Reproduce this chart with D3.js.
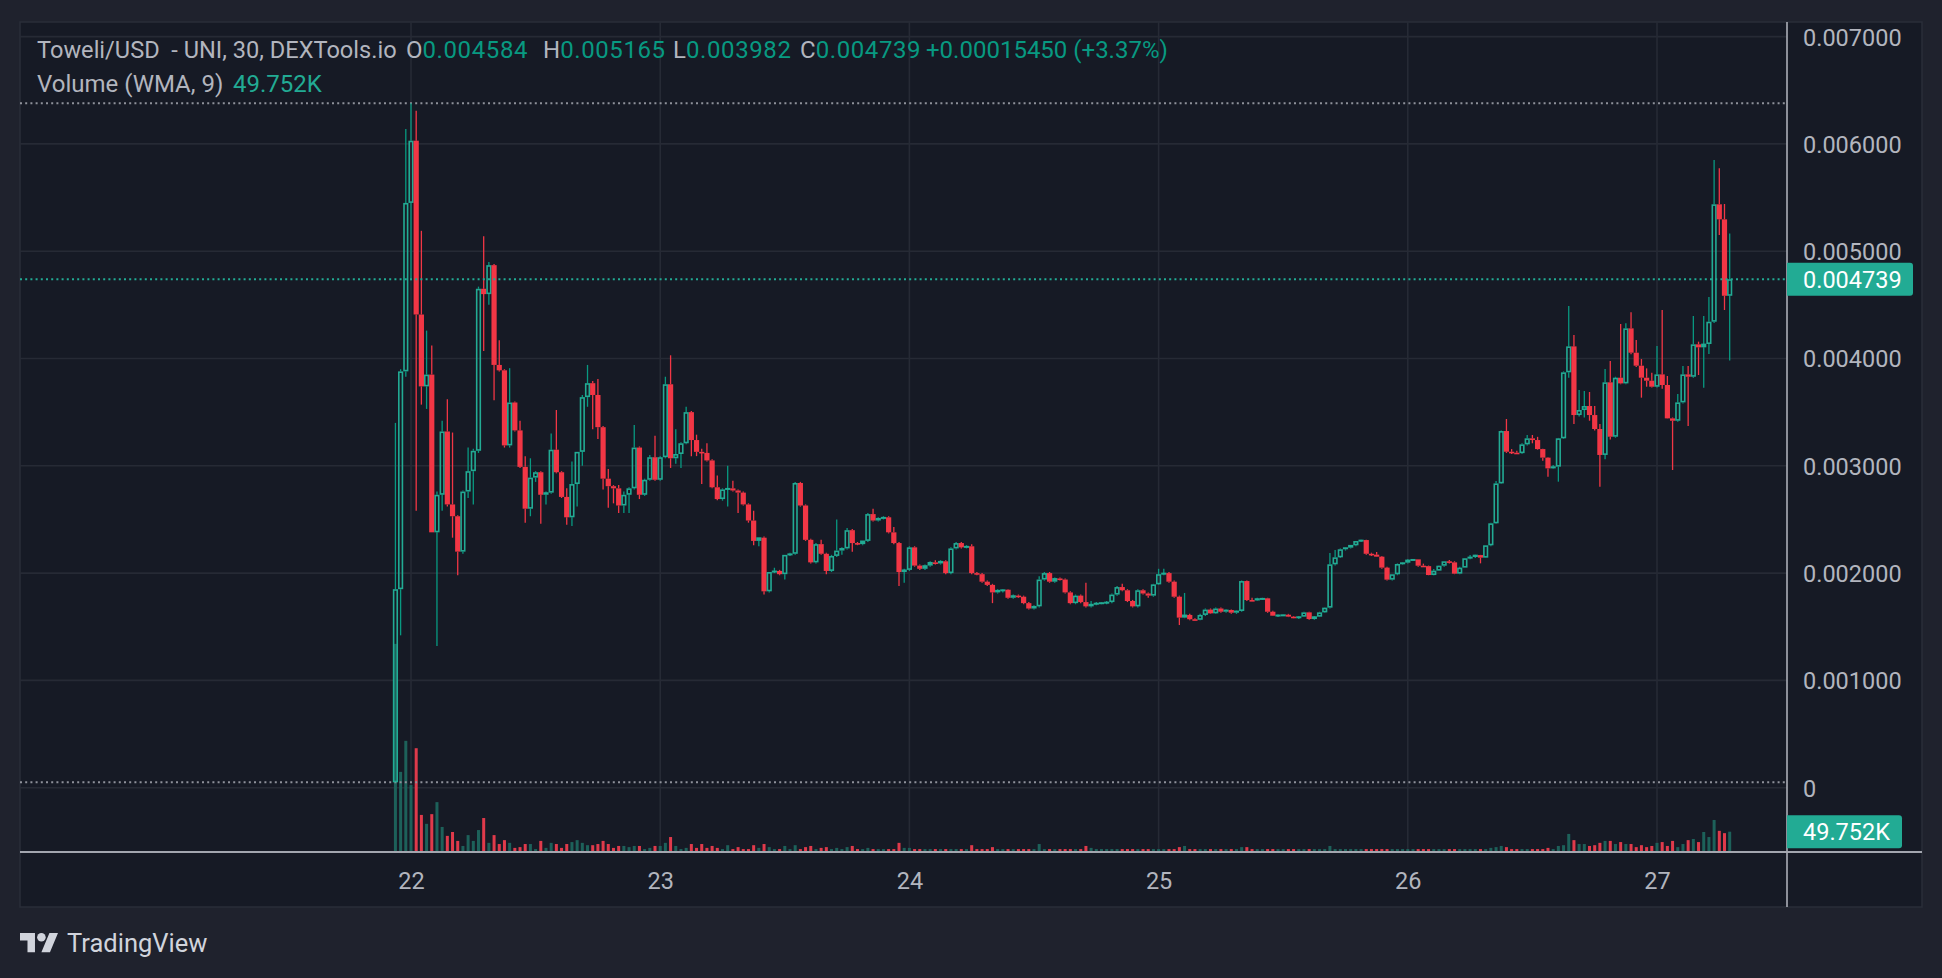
<!DOCTYPE html>
<html><head><meta charset="utf-8">
<script src="https://cdn.jsdelivr.net/npm/d3@7"></script>
<style>
html,body{margin:0;padding:0;background:#1f222d;}
svg{display:block;}
text{font-family:Roboto,"Noto Sans",sans-serif;}
</style></head><body>
<svg id="chart" width="1942" height="978"></svg>
<script>
// ---------------- DATA ----------------
const symbolTitle = "Toweli/USD  - UNI, 30, DEXTools.io";
const volumeTitle = "Volume (WMA, 9)";
const startTime = new Date(2024, 0, 21, 22, 30); // first 30-min candle
const intervalMinutes = 30;

const open = [
0.00005,0.00185,0.00388,0.00545,0.00603,0.00441,0.00374,0.00385,0.00238,0.00273,
0.00332,0.00264,0.00253,0.0022,0.00276,0.00295,0.00314,0.00465,0.0046,0.00487,
0.00394,0.00389,0.00319,0.00359,0.00333,0.00299,0.0026,0.00289,0.00294,0.00273,
0.00275,0.00315,0.00294,0.00271,0.00252,0.00283,0.00313,0.00364,0.00377,0.00366,
0.00336,0.00288,0.00281,0.00279,0.00263,0.00273,0.00279,0.00317,0.00273,0.00287,
0.00308,0.00287,0.00308,0.00376,0.00307,0.00311,0.00321,0.0035,0.00324,0.00313,
0.00312,0.00305,0.0028,0.00269,0.00278,0.00279,0.00277,0.00275,0.00264,0.00249,
0.0023,0.00233,0.00183,0.00201,0.00202,0.00199,0.00217,0.00218,0.00284,0.00263,
0.00231,0.0021,0.00227,0.00218,0.00202,0.00216,0.00221,0.00223,0.0024,0.00228,
0.00227,0.0023,0.00255,0.00249,0.00251,0.00252,0.00238,0.00228,0.00201,0.00203,
0.00224,0.00207,0.00204,0.00207,0.0021,0.00209,0.00211,0.002,0.00223,0.00228,
0.00224,0.00225,0.002,0.00199,0.00192,0.00189,0.00182,0.00184,0.001845,0.00177,
0.00179,0.00178,0.00172,0.00167,0.00169,0.00194,0.002,0.00192,0.00195,0.00194,
0.00182,0.00172,0.00179,0.00173,0.00169,0.00171,0.00172,0.001725,0.00173,0.0018,
0.00187,0.00184,0.00174,0.00169,0.00184,0.00181,0.00179,0.001895,0.00199,0.002,
0.00192,0.00178,0.001585,0.00161,0.00157,0.001565,0.00161,0.00166,0.001625,0.00167,
0.00164,0.001656,0.001631,0.001647,0.001926,0.001749,0.001745,0.001762,0.001765,0.00164,
0.001603,0.00161,0.001612,0.001594,0.001585,0.001594,0.001634,0.001572,0.001594,0.001634,
0.001678,0.002082,0.002147,0.002222,0.002237,0.002259,0.002299,0.002308,0.00218,0.002172,
0.002153,0.002051,0.001939,0.001989,0.002085,0.002097,0.002122,0.002128,0.002069,0.002065,
0.001982,0.002023,0.002069,0.00211,0.0021,0.001995,0.002051,0.002138,0.00215,0.002168,
0.002144,0.002259,0.002464,0.002836,0.003324,0.003131,0.003122,0.003118,0.0032,0.003256,
0.00324,0.003156,0.003076,0.002976,0.002992,0.003256,0.003871,0.004113,0.003473,0.00352,
0.003557,0.003473,0.003343,0.003101,0.003778,0.003271,0.003821,0.003768,0.004281,0.004054,
0.003933,0.003821,0.003793,0.003737,0.003852,0.003753,0.003442,0.00342,0.003591,0.003852,
0.00383,0.004132,0.004104,0.004135,0.004343,0.005437,0.005297,0.00458449
];
const high = [
0.0034,0.0039,0.00614,0.00638,0.00631,0.00519,0.00426,0.00412,0.00276,0.00342,
0.00362,0.00331,0.00254,0.00277,0.00317,0.00316,0.00467,0.00514,0.0049,0.00488,
0.00417,0.0039,0.00391,0.0036,0.00342,0.00309,0.00307,0.00295,0.00295,0.00276,
0.0033,0.00352,0.00295,0.00279,0.00304,0.00313,0.00366,0.00394,0.00379,0.00381,
0.00337,0.00297,0.00282,0.00282,0.00276,0.0028,0.00338,0.00318,0.00288,0.0031,
0.00328,0.00309,0.00383,0.00403,0.00334,0.00322,0.00355,0.00351,0.00329,0.00316,
0.00321,0.00306,0.00291,0.00279,0.003,0.00286,0.00278,0.00276,0.00265,0.00258,
0.00233,0.00234,0.00201,0.00205,0.00203,0.00217,0.00219,0.00285,0.00285,0.00264,
0.00232,0.00228,0.00231,0.00219,0.00217,0.0025,0.00224,0.00242,0.00241,0.00229,
0.0023,0.00256,0.0026,0.00252,0.00253,0.00253,0.00243,0.00229,0.00204,0.00225,
0.00225,0.00208,0.00208,0.00211,0.00212,0.00212,0.00212,0.00224,0.00229,0.00229,
0.00226,0.00227,0.00201,0.002,0.00193,0.0019,0.00185,0.00185,0.00185,0.0018,
0.0018,0.00179,0.00173,0.0017,0.00197,0.00201,0.00201,0.00196,0.00196,0.00195,
0.00183,0.0018,0.0018,0.00191,0.00174,0.00173,0.00173,0.00174,0.00181,0.00188,
0.0019,0.00185,0.00175,0.00185,0.00185,0.00182,0.0019,0.00204,0.00204,0.00201,
0.00193,0.00179,0.001815,0.00162,0.00158,0.00162,0.00167,0.00167,0.00168,0.00168,
0.00166,0.00166,0.00165,0.00193,0.00193,0.00177,0.00177,0.00177,0.00177,0.00165,
0.001614,0.001615,0.00162,0.0016,0.0016,0.00164,0.00164,0.0016,0.00164,0.00168,
0.002187,0.002215,0.00223,0.00224,0.00226,0.0023,0.00231,0.00231,0.00219,0.002197,
0.00216,0.00206,0.00199,0.00209,0.0021,0.00213,0.00213,0.00213,0.002088,0.00207,
0.002038,0.00207,0.00211,0.002122,0.00211,0.00206,0.00214,0.002169,0.00217,0.00217,
0.00226,0.00247,0.002858,0.00333,0.003436,0.003156,0.00314,0.00321,0.003287,0.003287,
0.00327,0.00316,0.00308,0.003007,0.00326,0.00388,0.004489,0.004219,0.003706,0.003697,
0.003688,0.003557,0.003389,0.003902,0.003977,0.00383,0.004321,0.004328,0.00443,0.004172,
0.003995,0.003908,0.003868,0.004116,0.004452,0.003837,0.00345,0.00367,0.00393,0.00393,
0.004396,0.004157,0.004396,0.004573,0.00585,0.005772,0.00544,0.005165
];
const low = [
0.00005,0.00142,0.00383,0.00473,0.00258,0.00357,0.00353,0.00238,0.00132,0.00258,
0.00262,0.00233,0.00198,0.00218,0.0027,0.00264,0.00312,0.00407,0.0045,0.00361,
0.00388,0.00317,0.00317,0.00332,0.00298,0.00247,0.00253,0.00285,0.00246,0.00264,
0.00274,0.00293,0.0027,0.00245,0.00244,0.00262,0.003,0.00355,0.00334,0.00325,
0.00278,0.00261,0.00265,0.00256,0.00256,0.00256,0.00278,0.00269,0.00272,0.00286,
0.00286,0.00286,0.00307,0.00298,0.00302,0.00298,0.0032,0.00309,0.00309,0.00283,
0.00304,0.00279,0.00268,0.002675,0.00262,0.00276,0.00256,0.00263,0.00247,0.00226,
0.00225,0.0018,0.00182,0.002,0.00198,0.00194,0.00216,0.00217,0.00262,0.0023,
0.00209,0.00209,0.00217,0.00199,0.00201,0.00215,0.00217,0.00222,0.0022,0.00226,
0.00226,0.00229,0.00248,0.00248,0.0025,0.00237,0.00227,0.00188,0.00191,0.00202,
0.00206,0.00203,0.00203,0.00206,0.00208,0.00208,0.00199,0.00199,0.00222,0.00223,
0.00223,0.00199,0.00198,0.00191,0.00188,0.00172,0.00181,0.00182,0.00176,0.00176,
0.00177,0.00171,0.00166,0.00166,0.00168,0.00193,0.00191,0.00191,0.00193,0.00181,
0.00171,0.00171,0.00172,0.00168,0.00168,0.0017,0.00171,0.00171,0.00172,0.00179,
0.00183,0.00173,0.00168,0.00168,0.0018,0.00177,0.00178,0.00189,0.00198,0.00191,
0.00177,0.001516,0.00158,0.00156,0.00156,0.00156,0.0016,0.00162,0.00162,0.00163,
0.00163,0.00162,0.00162,0.00164,0.00174,0.00174,0.00174,0.00175,0.00163,0.0016,
0.00159,0.0016,0.00159,0.00158,0.001572,0.00159,0.001565,0.001565,0.00159,0.00163,
0.00167,0.00207,0.00214,0.00221,0.00223,0.00225,0.00229,0.00217,0.00216,0.00215,
0.00204,0.00193,0.00193,0.00198,0.00208,0.00209,0.00212,0.00206,0.00206,0.00198,
0.00198,0.00202,0.00206,0.00209,0.00199,0.00199,0.00205,0.00213,0.00214,0.002091,
0.00214,0.00225,0.00246,0.00283,0.00312,0.00311,0.00311,0.00311,0.00319,0.00321,
0.00315,0.003047,0.002899,0.00297,0.002852,0.00325,0.003821,0.003389,0.00346,0.00345,
0.00342,0.00333,0.002805,0.00306,0.003246,0.003262,0.00376,0.00376,0.00404,0.00392,
0.003635,0.003737,0.00373,0.00373,0.003718,0.00344,0.002961,0.00341,0.00358,0.003371,
0.00382,0.003846,0.003728,0.004042,0.00433,0.005151,0.004452,0.003982
];
const close = [
0.00185,0.00388,0.00545,0.00603,0.00441,0.00374,0.00385,0.00238,0.00273,0.00332,
0.00264,0.00253,0.0022,0.00276,0.00295,0.00314,0.00465,0.0046,0.00487,0.00394,
0.00389,0.00319,0.00359,0.00333,0.00299,0.0026,0.00289,0.00294,0.00273,0.00275,
0.00315,0.00294,0.00271,0.00252,0.00283,0.00313,0.00364,0.00377,0.00366,0.00336,
0.00288,0.00281,0.00279,0.00263,0.00273,0.00279,0.00317,0.00273,0.00287,0.00308,
0.00287,0.00308,0.00376,0.00307,0.00311,0.00321,0.0035,0.00324,0.00313,0.00312,
0.00305,0.0028,0.00269,0.00278,0.00279,0.00277,0.00275,0.00264,0.00249,0.0023,
0.00233,0.00183,0.00201,0.00202,0.00199,0.00217,0.00218,0.00284,0.00263,0.00231,
0.0021,0.00227,0.00218,0.00202,0.00216,0.00221,0.00223,0.0024,0.00228,0.00227,
0.0023,0.00255,0.00249,0.00251,0.00252,0.00238,0.00228,0.00201,0.00203,0.00224,
0.00207,0.00204,0.00207,0.0021,0.00209,0.00211,0.002,0.00223,0.00228,0.00224,
0.00225,0.002,0.00199,0.00192,0.00189,0.00182,0.00184,0.001845,0.00177,0.00179,
0.00178,0.00172,0.00167,0.00169,0.00194,0.002,0.00192,0.00195,0.00194,0.00182,
0.00172,0.00179,0.00173,0.00169,0.00171,0.00172,0.001725,0.00173,0.0018,0.00187,
0.00184,0.00174,0.00169,0.00184,0.00181,0.00179,0.001895,0.00199,0.002,0.00192,
0.00178,0.001585,0.00161,0.00157,0.001565,0.00161,0.00166,0.001625,0.00167,0.00164,
0.001656,0.001631,0.001647,0.001926,0.001749,0.001745,0.001762,0.001765,0.00164,0.001603,
0.00161,0.001612,0.001594,0.001585,0.001594,0.001634,0.001572,0.001594,0.001634,0.001678,
0.002082,0.002147,0.002222,0.002237,0.002259,0.002299,0.002308,0.00218,0.002172,0.002153,
0.002051,0.001939,0.001989,0.002085,0.002097,0.002122,0.002128,0.002069,0.002065,0.001982,
0.002023,0.002069,0.00211,0.0021,0.001995,0.002051,0.002138,0.00215,0.002168,0.002144,
0.002259,0.002464,0.002836,0.003324,0.003131,0.003122,0.003118,0.0032,0.003256,0.00324,
0.003156,0.003076,0.002976,0.002992,0.003256,0.003871,0.004113,0.003473,0.00352,0.003557,
0.003473,0.003343,0.003101,0.003778,0.003271,0.003821,0.003768,0.004281,0.004054,0.003933,
0.003821,0.003793,0.003737,0.003852,0.003753,0.003442,0.00342,0.003591,0.003852,0.00383,
0.004132,0.004104,0.004135,0.004343,0.005437,0.005297,0.00458449,0.00473899
];
const volume = [
534000,204000,284000,170000,265000,93000,70000,95000,126000,62000,
39000,49000,26000,13000,41000,26000,54000,85000,21000,41000,
18000,28000,21000,8000,10000,18000,18000,5000,26000,8000,
21000,18000,8000,18000,23000,28000,21000,15000,15000,18000,
26000,18000,8000,13000,13000,10000,13000,13000,5000,8000,
13000,13000,21000,36000,13000,5000,8000,18000,8000,18000,
8000,13000,8000,5000,15000,5000,10000,5000,5000,15000,
8000,18000,10000,5000,5000,13000,5000,15000,5000,10000,
13000,5000,8000,10000,5000,8000,5000,10000,13000,5000,
5000,8000,5000,5000,5000,5000,5000,21000,8000,8000,
5000,5000,5000,5000,5000,5000,5000,5000,5000,5000,
5000,15000,5000,5000,5000,10000,5000,5000,5000,5000,
5000,5000,5000,5000,18000,5000,5000,5000,5000,5000,
5000,5000,5000,13000,8000,5000,5000,5000,5000,5000,
5000,5000,5000,5000,5000,5000,5000,5000,5000,5000,
5000,10000,13000,5000,5000,5000,5000,5000,5000,5000,
5000,5000,5000,10000,10000,5000,5000,5000,5000,5000,
5000,5000,5000,5000,5000,5000,5000,5000,5000,5000,
13000,5000,5000,5000,5000,5000,5000,5000,5000,5000,
5000,5000,5000,5000,5000,5000,5000,5000,5000,5000,
5000,5000,5000,5000,5000,5000,5000,5000,5000,5000,
5000,8000,10000,13000,10000,5000,5000,5000,5000,5000,
5000,5000,8000,5000,13000,15000,44000,28000,18000,18000,
13000,15000,21000,26000,26000,18000,23000,18000,18000,10000,
15000,10000,13000,21000,23000,13000,26000,10000,18000,28000,
31000,23000,49000,36000,80000,52000,46000,49752
];
const priceTicks = [0, 0.001, 0.002, 0.003, 0.004, 0.005, 0.006, 0.007];
const priceTickLabels = ["0", "0.001000", "0.002000", "0.003000", "0.004000", "0.005000", "0.006000", "0.007000"];
const dayTicks = [new Date(2024,0,22), new Date(2024,0,23), new Date(2024,0,24), new Date(2024,0,25), new Date(2024,0,26), new Date(2024,0,27)];
const dayTickLabels = ["22", "23", "24", "25", "26", "27"];

// ---------------- LAYOUT ----------------
const W = 1942, H = 978;
const pane = {x0: 20, y0: 22, x1: 1922, y1: 907};
const axisX = 1787;      // price axis separator
const timeAxisY = 852;   // time axis separator
const volBase = 851;

const C = {
  bg: "#1f222d", pane: "#161a25", grid: "#262a35", border: "#2a2e39",
  axisLine: "#a3a6af", text: "#b2b5be", up: "#22ab94", upWick: "#089981",
  down: "#f23645", upVol: "#1d615a", downVol: "#e03a4b", hiLo: "#8e919a",
  legendVal: "#089981"
};

const data = open.map((o, k) => ({
  t: new Date(startTime.getTime() + k * intervalMinutes * 60000),
  o, h: high[k], l: low[k], c: close[k], v: volume[k]
}));

const x = d3.scaleTime().domain([dayTicks[0], dayTicks[5]]).range([411, 1657]);
const y = d3.scaleLinear().domain([0, 0.007]).range([787.7, 36.6]);
const yv = d3.scaleLinear().domain([0, 600000]).range([volBase, volBase - 600 / 2.578]);

const svg = d3.select("#chart");
svg.append("rect").attr("width", W).attr("height", H).attr("fill", C.bg);
svg.append("rect").attr("x", pane.x0).attr("y", pane.y0)
  .attr("width", pane.x1 - pane.x0).attr("height", pane.y1 - pane.y0)
  .attr("fill", C.pane).attr("stroke", C.border).attr("stroke-width", 1.5);

const plot = svg.append("g");
plot.append("clipPath").attr("id", "clip").append("rect")
  .attr("x", pane.x0).attr("y", pane.y0).attr("width", axisX - pane.x0).attr("height", timeAxisY - pane.y0);
const inner = plot.append("g").attr("clip-path", "url(#clip)");

// grid
inner.selectAll("line.hg").data(priceTicks).join("line")
  .attr("x1", pane.x0).attr("x2", axisX)
  .attr("y1", d => y(d)).attr("y2", d => y(d))
  .attr("stroke", C.grid).attr("stroke-width", 1.6);
inner.selectAll("line.vg").data(dayTicks).join("line")
  .attr("x1", d => x(d)).attr("x2", d => x(d))
  .attr("y1", pane.y0).attr("y2", timeAxisY)
  .attr("stroke", C.grid).attr("stroke-width", 1.6);

// volume bars
const volW = 3;
inner.append("g").selectAll("rect").data(data).join("rect")
  .attr("x", d => x(d.t) - volW / 2)
  .attr("width", volW)
  .attr("y", d => yv(d.v))
  .attr("height", d => volBase - yv(d.v))
  .attr("fill", d => d.c >= d.o ? C.upVol : C.downVol);

// high / low lines
const maxHigh = d3.max(data, d => d.h), minLow = d3.min(data, d => d.l);
[maxHigh, minLow].forEach(v => {
  inner.append("line").attr("x1", pane.x0).attr("x2", axisX)
    .attr("y1", y(v)).attr("y2", y(v))
    .attr("stroke", C.hiLo).attr("stroke-width", 2).attr("stroke-dasharray", "2 3.2");
});

// candles
const bodyW = 5.2, sw = 1.6, wickW = 1.3;
const cg = inner.append("g");
data.forEach(d => {
  const cx = x(d.t);
  const up = d.c >= d.o;
  const yTop = y(Math.max(d.o, d.c)), yBot = y(Math.min(d.o, d.c));
  const wc = up ? C.upWick : C.down;
  if (y(d.h) < yTop) cg.append("line").attr("x1", cx).attr("x2", cx).attr("y1", y(d.h)).attr("y2", yTop)
      .attr("stroke", wc).attr("stroke-width", wickW);
  if (y(d.l) > yBot) cg.append("line").attr("x1", cx).attr("x2", cx).attr("y1", yBot).attr("y2", y(d.l))
      .attr("stroke", wc).attr("stroke-width", wickW);
  const hgt = yBot - yTop;
  if (up) {
    if (hgt > 2 * sw + 0.5) {
      cg.append("rect").attr("x", cx - bodyW / 2 + sw / 2).attr("y", yTop + sw / 2)
        .attr("width", bodyW - sw).attr("height", hgt - sw)
        .attr("fill", "none").attr("stroke", C.up).attr("stroke-width", sw);
    } else {
      cg.append("rect").attr("x", cx - bodyW / 2).attr("y", yTop - 0.4)
        .attr("width", bodyW).attr("height", Math.max(hgt, 1.6) + 0.4).attr("fill", C.up);
    }
  } else {
    cg.append("rect").attr("x", cx - bodyW / 2).attr("y", yTop)
      .attr("width", bodyW).attr("height", Math.max(hgt, 1.6)).attr("fill", C.down);
  }
});

// last price line
const last = data[data.length - 1], prev = data[data.length - 2];
inner.append("line").attr("x1", pane.x0).attr("x2", axisX)
  .attr("y1", y(last.c)).attr("y2", y(last.c))
  .attr("stroke", C.up).attr("stroke-width", 2).attr("stroke-dasharray", "2 3.2");

// separators
svg.append("line").attr("x1", axisX).attr("x2", axisX).attr("y1", pane.y0).attr("y2", pane.y1)
  .attr("stroke", C.axisLine).attr("stroke-width", 1.7);
svg.append("line").attr("x1", pane.x0).attr("x2", pane.x1).attr("y1", timeAxisY).attr("y2", timeAxisY)
  .attr("stroke", C.axisLine).attr("stroke-width", 2);

// price axis
const axisFont = "23.5px";
const pAxis = d3.axisRight(y).tickValues(priceTicks)
  .tickFormat((d, i) => priceTickLabels[i]).tickSize(0).tickPadding(16);
const pa = svg.append("g").attr("transform", `translate(${axisX},0)`).call(pAxis);
pa.select(".domain").remove();
pa.selectAll("text").attr("fill", C.text).style("font-size", axisFont).attr("dy", "0.36em");

// time axis
const tAxis = d3.axisBottom(x).tickValues(dayTicks)
  .tickFormat((d, i) => dayTickLabels[i]).tickSize(0).tickPadding(0);
const ta = svg.append("g").attr("transform", `translate(0,${timeAxisY})`).call(tAxis);
ta.select(".domain").remove();
ta.selectAll("text").attr("fill", C.text).style("font-size", axisFont).attr("y", 37).attr("dy", 0);

// price label boxes
const fmtP = v => v.toFixed(6);
function labelBox(yc, w, txt) {
  const g = svg.append("g");
  g.append("path")
    .attr("d", `M${axisX},${yc - 16.5} H${axisX + w - 3} Q${axisX + w},${yc - 16.5} ${axisX + w},${yc - 13.5} V${yc + 13.5} Q${axisX + w},${yc + 16.5} ${axisX + w - 3},${yc + 16.5} H${axisX} Z`)
    .attr("fill", C.up);
  g.append("text").attr("x", axisX + 16).attr("y", yc).attr("dy", "0.36em")
    .attr("fill", "#ffffff").style("font-size", axisFont).text(txt);
}
labelBox(y(last.c), 126, fmtP(last.c));
const fmtVol = v => (v / 1000).toFixed(3) + "K";
labelBox(yv(last.v), 115, fmtVol(last.v));

// legend
const change = last.c - prev.c;
const pct = change / prev.c * 100;
const lg = svg.append("g").style("font-size", "24px");
lg.append("text").attr("x", 37).attr("y", 58).attr("fill", C.text).style("white-space", "pre")
  .style("font-size", "23.6px").text(symbolTitle);
[["O", last.o, 406], ["H", last.h, 543], ["L", last.l, 673], ["C", last.c, 800]].forEach(([k, v, px]) => {
  const t = lg.append("text").attr("x", px).attr("y", 58);
  t.append("tspan").attr("fill", C.text).text(k);
  t.append("tspan").attr("fill", C.legendVal).style("letter-spacing", "0.6px").text(fmtP(v));
});
lg.append("text").attr("x", 926).attr("y", 58).attr("fill", C.legendVal)
  .text(`${change >= 0 ? "+" : ""}${change.toFixed(8)} (${change >= 0 ? "+" : ""}${pct.toFixed(2)}%)`);
lg.append("text").attr("x", 37).attr("y", 92).attr("fill", C.text).text(volumeTitle);
lg.append("text").attr("x", 233).attr("y", 92).attr("fill", C.up).text(fmtVol(last.v));

// TradingView logo
const logo = svg.append("g").attr("transform", "translate(20,928.7) scale(1.07)").attr("fill", "#d1d4dc");
logo.append("path").attr("d", "M14 22H7V11H0V4h14v18zM28 22h-8l7.5-18h8L28 22z");
logo.append("circle").attr("cx", 20).attr("cy", 8).attr("r", 4);
svg.append("text").attr("x", 67).attr("y", 952).attr("fill", "#d1d4dc").style("font-size", "25.5px").text("TradingView");
</script>
</body></html>
